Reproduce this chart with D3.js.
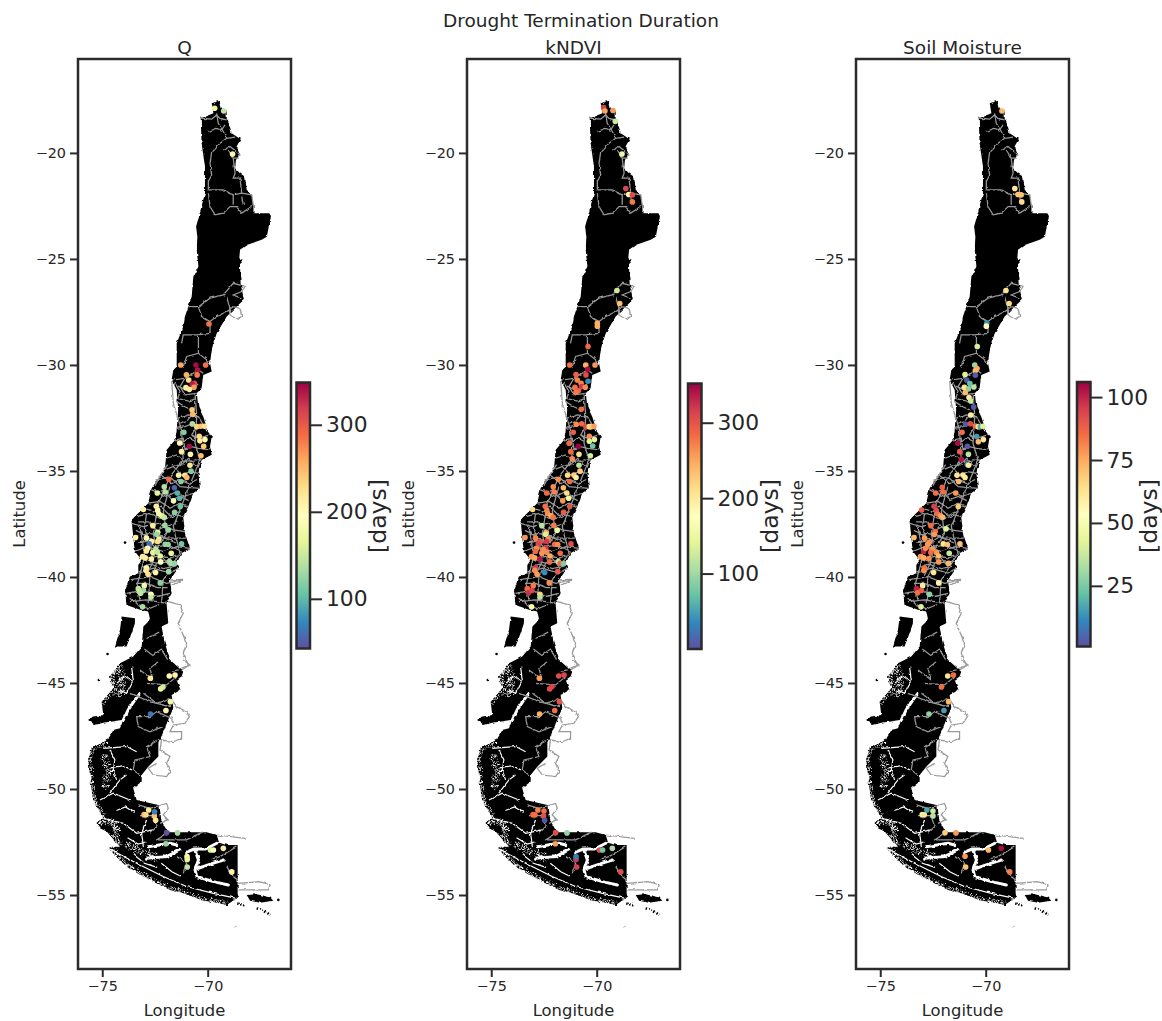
<!DOCTYPE html>
<html lang="en">
<head>
<meta charset="utf-8">
<title>Drought Termination Duration</title>
<script src="https://d3js.org/d3.v7.min.js"></script>
<style>
  html, body { margin: 0; padding: 0; background: #fff; }
  text { font-family: "DejaVu Sans", sans-serif; fill: #262626; }
</style>
</head>
<body>
<div id="chart"></div>
<script>
// Values: every site is [lon, lat, days]
var panelTitles = ['Q', 'kNDVI', 'Soil Moisture'];

var qSites = [
  [-69.67,-17.89,170],[-69.24,-18.02,145],[-68.82,-20.05,205],[-69.94,-28.07,285],
  [-71.28,-30.0,260],[-70.56,-30.0,345],[-70.10,-30.0,285],[-70.48,-30.24,340],[-71.01,-30.46,255],[-70.50,-30.47,280],
  [-70.90,-30.71,225],[-70.63,-30.86,310],[-70.74,-30.90,335],[-70.65,-31.05,265],[-71.03,-31.07,215],[-70.87,-31.15,215],
  [-70.74,-32.12,240],[-70.71,-32.33,250],[-70.73,-32.78,135],[-71.13,-33.18,115],[-70.52,-32.91,235],[-70.33,-32.89,245],
  [-70.16,-32.89,225],[-70.40,-33.36,230],[-70.13,-33.52,205],[-70.37,-33.58,215],[-70.19,-33.84,240],[-71.33,-33.68,205],
  [-70.87,-33.84,345],[-71.24,-34.09,215],[-70.82,-34.21,205],[-70.32,-34.28,245],[-70.84,-34.73,220],[-70.79,-35.01,115],
  [-71.38,-35.20,175],[-71.08,-35.20,220],[-70.99,-35.31,250],[-71.84,-35.39,290],[-71.27,-35.50,120],[-72.06,-35.75,140],
  [-71.58,-35.79,55],[-72.01,-35.99,140],[-72.39,-36.04,165],[-71.44,-36.04,95],[-71.33,-36.29,95],[-71.62,-36.41,190],
  [-71.30,-36.68,105],[-72.44,-36.67,215],[-73.05,-36.82,210],[-72.37,-36.87,205],[-72.31,-37.03,185],[-72.18,-37.11,170],
  [-72.06,-37.18,150],[-71.57,-36.95,120],[-72.60,-37.58,215],[-72.03,-37.56,130],[-71.87,-37.78,125],[-72.37,-37.89,175],
  [-72.42,-37.99,125],[-73.42,-38.14,210],[-72.91,-38.16,205],[-72.31,-38.21,215],[-72.37,-38.33,225],[-72.66,-38.33,210],
  [-72.78,-38.43,60],[-72.01,-38.46,125],[-71.88,-38.47,125],[-71.24,-38.44,110],[-72.85,-38.65,200],[-72.91,-38.77,215],
  [-72.47,-38.69,145],[-72.60,-38.85,165],[-72.39,-38.83,145],[-71.73,-38.88,170],[-72.25,-39.01,165],[-73.09,-39.04,215],
  [-72.96,-39.10,215],[-72.67,-39.15,210],[-72.23,-39.29,195],[-71.82,-39.27,135],[-71.73,-39.35,135],[-71.57,-39.38,125],
  [-72.91,-39.57,205],[-72.93,-39.70,215],[-72.83,-39.87,225],[-72.47,-39.79,205],[-71.85,-39.75,130],[-72.25,-40.28,120],
  [-73.01,-40.41,180],[-73.29,-40.55,145],[-73.24,-40.69,150],[-73.05,-40.63,130],[-73.18,-40.77,145],[-72.69,-40.82,195],
  [-72.69,-40.96,150],[-73.09,-41.41,135],
  [-72.72,-44.78,215],[-71.82,-44.67,205],[-71.55,-44.62,210],[-72.23,-45.28,170],[-72.12,-45.19,155],[-71.77,-45.88,175],
  [-71.98,-46.30,205],[-72.71,-46.46,65],[-72.80,-50.99,215],[-73.02,-51.21,250],[-72.93,-51.22,230],[-72.53,-51.27,245],
  [-72.52,-51.07,70],[-72.47,-51.48,220],[-71.95,-52.06,45],[-71.43,-52.07,130],[-71.98,-52.58,125],[-70.98,-53.19,205],
  [-70.97,-53.32,170],[-70.97,-53.68,145],[-69.87,-52.88,160],[-69.73,-52.88,190],[-69.26,-52.80,215],[-68.86,-53.91,210]
];

var kndviSites = [
  [-69.67,-17.86,315],[-69.61,-18.02,250],[-69.23,-18.00,255],[-69.12,-18.51,125],[-68.80,-20.05,155],[-68.62,-21.68,310],
  [-68.48,-21.96,185],[-68.31,-21.98,305],[-68.31,-22.31,275],[-69.04,-26.49,125],[-68.91,-27.10,235],[-69.97,-28.03,245],
  [-69.97,-28.17,245],[-70.41,-29.13,285],[-71.28,-30.0,280],[-70.52,-30.01,245],[-70.08,-30.0,260],[-70.43,-30.20,345],
  [-70.98,-30.45,290],[-70.51,-30.47,305],[-70.92,-30.71,270],[-70.41,-30.77,40],[-70.74,-30.86,270],[-70.71,-31.02,320],
  [-70.54,-31.05,265],[-71.03,-31.05,280],[-70.87,-31.22,290],[-70.98,-31.29,275],
  [-70.73,-32.09,285],[-70.97,-32.80,265],[-70.71,-32.77,285],[-70.51,-32.92,305],[-70.35,-32.91,210],[-70.27,-32.91,220],
  [-70.13,-32.89,255],[-71.11,-33.18,295],[-70.35,-33.36,265],[-70.11,-33.52,140],[-70.35,-33.60,135],[-70.19,-33.82,75],
  [-71.31,-33.69,285],[-70.87,-33.84,350],[-71.23,-34.09,285],[-70.84,-34.21,210],[-70.30,-34.28,130],[-71.16,-34.43,265],
  [-70.84,-34.73,115],[-70.79,-35.01,225],[-71.38,-35.20,215],[-71.08,-35.19,225],[-70.98,-35.31,195],[-71.82,-35.39,265],
  [-71.28,-35.50,285],[-72.06,-35.75,265],[-71.58,-35.79,240],[-72.01,-35.99,270],[-72.37,-36.04,285],[-71.42,-36.04,210],
  [-71.33,-36.29,150],[-71.61,-36.41,260],[-71.28,-36.68,300],[-72.44,-36.67,280],[-73.04,-36.82,215],[-72.36,-36.87,270],
  [-72.33,-37.01,265],[-72.17,-37.11,245],[-72.06,-37.18,280],[-71.57,-36.95,295],[-72.60,-37.58,115],[-72.03,-37.56,275],
  [-71.87,-37.80,150],[-72.39,-37.89,250],[-72.42,-37.99,135],[-73.40,-38.14,260],[-72.90,-38.17,270],[-72.30,-38.21,265],
  [-72.66,-38.33,300],[-72.37,-38.33,320],[-72.77,-38.43,310],[-71.99,-38.46,285],[-71.85,-38.47,265],[-71.22,-38.44,305],
  [-72.41,-38.63,320],[-72.85,-38.65,265],[-72.90,-38.79,285],[-72.53,-38.71,265],[-72.60,-38.88,260],[-72.37,-38.83,265],
  [-71.73,-38.88,285],[-72.21,-39.01,250],[-73.09,-39.04,260],[-72.94,-39.10,250],[-72.69,-39.15,340],[-72.23,-39.29,285],
  [-71.82,-39.27,120],[-71.73,-39.35,285],[-71.57,-39.38,85],[-72.90,-39.57,320],[-72.94,-39.68,265],[-72.83,-39.87,255],
  [-72.47,-39.79,40],[-71.85,-39.75,295],[-72.25,-40.28,265],[-73.01,-40.41,275],[-73.29,-40.55,285],[-73.23,-40.75,325],
  [-73.07,-40.64,310],[-72.69,-40.82,220],[-72.69,-40.96,115],[-73.09,-41.41,165],
  [-72.72,-44.78,255],[-71.80,-44.67,305],[-71.55,-44.62,310],[-72.23,-45.28,305],[-72.12,-45.17,310],[-71.77,-45.88,300],
  [-71.99,-46.30,280],[-72.71,-46.46,245],[-72.79,-50.99,270],[-73.02,-51.21,285],[-72.93,-51.22,280],[-72.50,-51.04,280],
  [-72.52,-51.27,300],[-72.47,-51.48,5],[-71.95,-52.06,305],[-71.41,-52.07,95],[-71.96,-52.58,255],[-70.98,-53.32,320],
  [-70.98,-53.19,30],[-70.95,-53.68,315],[-69.87,-52.88,305],[-69.72,-52.88,75],[-69.26,-52.80,105],[-68.86,-53.91,305]
];

var smSites = [
  [-69.23,-18.02,72],[-68.62,-21.68,62],[-68.47,-21.96,70],[-68.32,-21.98,70],[-68.29,-22.31,65],[-69.04,-26.49,62],
  [-68.89,-27.10,65],[-69.95,-28.03,13],[-69.97,-28.17,55],[-70.40,-29.13,40],[-70.52,-30.0,30],[-70.41,-30.17,75],
  [-70.49,-30.27,72],[-70.98,-30.45,42],[-70.49,-30.48,3],[-70.90,-30.71,3],[-70.75,-30.88,22],[-71.01,-31.05,62],
  [-70.56,-31.04,35],[-70.82,-31.13,28],[-70.97,-31.30,72],[-70.79,-31.54,60],[-70.71,-31.70,38],[-70.57,-31.98,3],
  [-70.71,-32.36,60],[-70.95,-32.80,3],[-70.73,-32.77,92],[-70.49,-32.88,85],[-70.35,-32.91,62],[-70.25,-32.91,18],
  [-70.13,-32.89,42],[-71.12,-33.18,85],[-70.43,-33.38,15],[-70.11,-33.52,62],[-70.35,-33.62,72],[-71.33,-33.69,105],
  [-70.87,-33.84,3],[-71.23,-34.09,88],[-70.82,-34.21,35],[-71.16,-34.45,103],[-70.87,-34.70,15],[-70.81,-34.73,60],
  [-71.36,-35.20,62],[-71.08,-35.19,62],[-70.98,-35.31,60],[-71.28,-35.50,72],[-72.06,-35.77,88],[-72.01,-35.99,85],
  [-72.37,-36.04,85],[-71.42,-36.04,78],[-72.45,-36.67,95],[-71.30,-36.68,68],[-73.04,-36.84,88],[-72.34,-36.87,92],
  [-72.28,-37.03,85],[-72.14,-37.11,78],[-72.04,-37.18,72],[-72.60,-37.58,85],[-71.88,-37.73,42],[-72.39,-37.86,85],
  [-72.44,-38.00,78],[-73.40,-38.14,72],[-72.90,-38.17,78],[-72.66,-38.35,80],[-72.75,-38.46,78],[-72.01,-38.44,62],
  [-71.82,-38.47,70],[-71.22,-38.44,70],[-72.94,-38.80,100],[-72.85,-38.65,80],[-72.53,-38.68,78],[-72.60,-38.85,85],
  [-72.33,-38.85,78],[-71.73,-38.88,38],[-72.23,-39.01,72],[-73.09,-39.04,78],[-72.94,-39.10,75],[-72.69,-39.13,80],
  [-72.23,-39.29,78],[-71.76,-39.35,72],[-72.90,-39.57,85],[-72.94,-39.70,80],[-72.47,-39.79,62],[-72.23,-40.28,58],
  [-72.99,-40.41,60],[-73.28,-40.55,100],[-73.23,-40.75,85],[-73.05,-40.64,88],[-72.67,-40.82,28],[-73.07,-41.41,42],
  [-71.80,-44.67,62],[-71.53,-44.62,85],[-72.10,-45.19,85],[-71.76,-45.88,72],[-71.98,-46.30,15],[-72.69,-46.46,28],
  [-72.79,-50.99,17],[-73.01,-51.21,45],[-72.91,-51.22,62],[-72.50,-51.04,38],[-72.50,-51.27,35],[-71.93,-52.06,68],
  [-71.41,-52.07,78],[-70.98,-53.17,78],[-70.95,-53.68,70],[-69.87,-52.88,72],[-69.26,-52.80,105],[-68.86,-53.91,82]
];

// Colour bar limits and ticks of each panel
var barDomains = [[42.9, 348.6], [0, 352], [0.9, 106]];
var barTicks = [[100, 200, 300], [100, 200, 300], [25, 50, 75, 100]];

var lonTicks = [-75, -70];
var latTicks = [-20, -25, -30, -35, -40, -45, -50, -55];

// Land, traced by eye, [lon, lat]
var mainland = [
  [-69.57,-17.58],[-69.42,-17.55],[-69.34,-17.89],[-69.10,-18.05],[-69.10,-18.37],[-68.97,-18.68],[-68.86,-19.07],[-68.44,-19.36],
  [-68.63,-19.70],[-68.55,-19.86],[-68.47,-20.09],[-68.66,-20.33],[-68.70,-20.72],[-68.47,-20.96],[-68.23,-21.12],[-68.15,-21.74],
  [-67.91,-21.98],[-67.83,-22.53],[-67.83,-22.84],[-67.08,-22.84],[-67.0,-22.97],[-67.2,-23.95],[-67.44,-24.10],[-68.15,-24.34],
  [-68.47,-24.57],[-68.50,-24.97],[-68.34,-25.05],[-68.47,-25.20],[-68.44,-26.15],[-68.28,-26.93],[-68.55,-27.17],[-69.10,-27.72],
  [-69.57,-28.50],[-69.73,-28.98],[-69.81,-29.29],[-69.89,-29.92],[-69.81,-30.31],[-70.21,-30.47],[-70.29,-31.10],[-70.52,-31.34],
  [-70.44,-31.97],[-70.21,-32.44],[-70.08,-32.83],[-70.05,-33.07],[-69.81,-33.38],[-69.89,-33.85],[-69.81,-34.24],[-70.29,-34.48],
  [-70.44,-35.11],[-70.37,-35.82],[-70.69,-36.05],[-70.92,-36.68],[-71.16,-37.15],[-71.08,-37.94],[-70.84,-38.65],[-71.24,-38.88],
  [-71.47,-39.35],[-71.40,-39.59],[-71.79,-40.14],[-71.71,-40.77],[-71.95,-41.24],[-71.87,-42.18],[-72.19,-42.34],[-72.03,-43.13],
  [-71.79,-43.91],[-71.16,-44.47],[-71.24,-44.70],[-71.47,-44.86],[-71.29,-45.33],[-71.71,-45.57],[-71.63,-46.19],[-71.87,-46.74],
  [-72.10,-47.30],[-72.34,-47.85],[-72.34,-48.47],[-72.82,-48.95],[-73.13,-49.34],[-73.13,-49.65],[-73.53,-49.97],[-73.37,-50.52],
  [-72.34,-50.75],[-72.26,-51.38],[-71.95,-51.93],[-71.79,-52.04],[-70.05,-52.04],[-69.57,-52.17],[-69.46,-52.53],[-69.10,-52.64],
  [-68.58,-52.64],[-68.58,-54.92],[-68.55,-55.11],[-69.10,-55.47],[-69.57,-55.36],[-70.21,-55.27],[-71.16,-54.92],[-71.79,-54.76],
  [-72.58,-54.37],[-73.21,-54.05],[-73.85,-53.66],[-74.72,-52.80],[-74.56,-52.72],[-74.16,-52.72],[-74.79,-52.01],[-75.11,-51.85],
  [-75.27,-51.62],[-74.95,-51.38],[-75.43,-50.52],[-75.51,-50.05],[-75.59,-49.26],[-75.67,-48.63],[-75.51,-48.08],[-74.79,-47.69],
  [-74.48,-47.22],[-74.16,-47.14],[-74.0,-46.74],[-74.95,-46.87],[-75.35,-46.98],[-75.67,-46.75],[-75.51,-46.59],[-74.95,-46.51],
  [-75.03,-45.88],[-74.48,-45.25],[-74.64,-44.70],[-74.16,-44.07],[-73.53,-43.75],[-73.13,-43.28],[-73.05,-42.34],[-72.74,-42.03],
  [-72.82,-41.63],[-73.21,-41.55],[-73.85,-41.32],[-73.92,-40.61],[-73.69,-39.98],[-73.29,-39.82],[-73.29,-39.43],[-73.13,-39.20],
  [-73.45,-38.80],[-73.53,-38.10],[-73.61,-37.31],[-73.37,-37.07],[-72.82,-36.52],[-72.66,-35.82],[-72.03,-34.95],[-71.95,-34.01],
  [-71.55,-33.54],[-71.47,-33.07],[-71.40,-32.12],[-71.47,-31.18],[-71.71,-30.71],[-71.63,-30.24],[-71.47,-30.08],[-71.47,-28.98],
  [-71.16,-28.19],[-71.08,-27.72],[-70.92,-27.25],[-70.76,-26.78],[-70.68,-25.83],[-70.44,-25.36],[-70.52,-24.57],[-70.49,-23.95],
  [-70.55,-23.47],[-70.44,-23.08],[-70.13,-21.90],[-70.13,-20.64],[-70.29,-19.54],[-70.33,-18.37],[-69.73,-18.13],[-69.81,-17.66]
];
var chiloe = [[-74.08,-41.87],[-73.45,-41.95],[-73.45,-42.18],[-73.61,-42.65],[-73.85,-43.28],[-74.40,-43.28],[-74.16,-42.50]];
var fuego = [[-68.15,-55.0],[-67.68,-54.97],[-67.04,-55.11],[-66.89,-55.27],[-67.52,-55.36],[-67.99,-55.27]];
var islets = [[-73.92,-38.38],[-75.16,-44.86],[-74.75,-43.63],[-66.65,-55.23]];

// Channels cut through the land in the south
var wideChannels = [
  [[-74.0,-46.74],[-73.77,-46.27],[-73.45,-45.80],[-73.21,-45.49]],
  [[-72.82,-52.72],[-71.79,-52.56],[-71.47,-52.64]],
  [[-72.90,-53.27],[-71.95,-53.19],[-71.32,-52.87]],
  [[-71.0,-52.98],[-70.64,-52.83],[-70.1,-52.83],[-69.57,-52.56]],
  [[-70.60,-52.90],[-70.44,-53.35],[-70.60,-53.82],[-70.52,-54.13],[-69.73,-54.37],[-69.02,-54.53]],
  [[-70.44,-53.74],[-69.73,-53.50],[-69.26,-53.35]]
];
var thinChannels = [
  [[-73.61,-44.23],[-73.53,-44.86],[-73.85,-45.49],[-74.16,-45.33]],
  [[-74.64,-48.16],[-74.40,-48.63],[-74.48,-49.10],[-74.32,-49.57]],
  [[-74.95,-48.08],[-73.84,-48.0],[-73.37,-48.24]],
  [[-74.64,-50.20],[-74.16,-49.57],[-73.85,-49.34]],
  [[-75.11,-50.52],[-74.48,-50.20],[-73.69,-50.52]],
  [[-74.95,-51.38],[-74.0,-51.62],[-73.37,-52.09],[-72.58,-51.93]],
  [[-72.90,-51.46],[-73.13,-52.09],[-73.05,-52.72]],
  [[-74.72,-52.80],[-73.37,-53.50],[-72.11,-54.13],[-71.0,-54.60],[-69.73,-54.92],[-68.31,-55.23]],
  [[-74.3,-51.0],[-73.9,-50.85],[-73.5,-51.1]],
  [[-74.6,-49.0],[-74.0,-48.9],[-73.6,-49.1]],
  [[-74.3,-45.0],[-73.9,-44.7],[-73.6,-44.9]],
  [[-73.8,-52.3],[-73.3,-52.6],[-72.9,-52.5]],
  [[-73.5,-53.1],[-73.0,-53.5],[-72.4,-53.7]],
  [[-72.2,-53.5],[-71.7,-53.9],[-71.3,-54.1]]
];
// Combed west and south coasts
var fringes = [
  [[-74.72,-52.80],[-73.85,-53.66],[-73.21,-54.05],[-72.58,-54.37],[-71.79,-54.76],[-71.16,-54.92],[-70.21,-55.27],[-69.57,-55.36],[-69.10,-55.47]],
  [[-73.9,-52.6],[-73.0,-53.0],[-72.3,-53.3]],
  [[-75.27,-51.62],[-74.95,-51.38],[-75.43,-50.52],[-75.51,-50.05],[-75.59,-49.26],[-75.67,-48.63],[-75.51,-48.08],[-74.79,-47.69]],
  [[-74.9,-51.5],[-74.3,-51.7],[-74.4,-52.4],[-74.16,-52.72]],
  [[-74.16,-44.07],[-74.64,-44.70],[-74.48,-45.25],[-75.03,-45.88]],
  [[-74.2,-44.3],[-74.0,-45.0],[-74.3,-45.7]],
  [[-74.9,-48.4],[-74.7,-49.2],[-74.9,-50.0]]
];
var fragments = [[[-67.68,-55.63],[-67.3,-55.75],[-67.04,-55.94]], [[-68.6,-55.4],[-68.2,-55.5]]];
var specks = [[-68.70,-56.49]];

// Basin boundaries, [lon, lat]
var basins = [
  [[-70.33,-18.36],[-69.81,-18.41],[-69.58,-18.21],[-69.42,-18.37],[-69.10,-18.44]],
  [[-69.97,-18.99],[-69.58,-18.84],[-69.34,-18.92],[-69.18,-18.68]],
  [[-69.58,-18.13],[-69.50,-18.60],[-69.26,-18.99],[-69.10,-19.31],[-68.70,-19.26]],
  [[-69.10,-19.31],[-69.41,-19.54],[-69.81,-19.94],[-69.89,-20.49],[-69.81,-21.04],[-69.97,-21.35],[-69.97,-21.74]],
  [[-69.26,-19.86],[-68.94,-19.70],[-68.63,-19.94],[-68.47,-20.09],[-68.55,-20.25],[-68.79,-20.25],[-69.02,-19.86]],
  [[-68.79,-20.25],[-68.70,-20.96],[-68.79,-21.19],[-68.47,-21.19],[-68.39,-21.90]],
  [[-69.97,-21.74],[-69.26,-21.74],[-68.79,-21.98],[-68.39,-21.90],[-67.91,-21.98],[-67.83,-22.53]],
  [[-69.97,-21.90],[-69.89,-22.53],[-69.65,-22.92],[-69.26,-22.84],[-68.94,-22.53],[-68.63,-22.53],[-68.39,-22.84],[-67.91,-22.53]],
  [[-68.79,-21.98],[-68.79,-22.45]],
  [[-68.39,-22.06],[-68.31,-22.45]],
  [[-70.92,-27.25],[-70.44,-27.25],[-70.21,-27.09],[-69.89,-26.85],[-69.26,-26.70],[-68.79,-26.15],[-68.23,-26.30],[-68.39,-26.54],[-68.79,-26.70],[-68.39,-26.85]],
  [[-68.79,-27.25],[-68.47,-27.33],[-68.39,-27.72],[-68.63,-27.84],[-68.94,-27.64],[-68.98,-27.40],[-68.79,-27.25]],
  [[-70.44,-27.25],[-70.29,-27.72],[-69.89,-27.95],[-69.58,-27.72],[-69.26,-27.56],[-68.94,-27.40],[-69.10,-26.78]],
  [[-69.89,-27.95],[-69.89,-28.51],[-70.52,-28.58],[-71.16,-28.58],[-71.24,-28.98]],
  [[-70.44,-28.58],[-70.44,-29.45],[-71.0,-29.60],[-71.16,-30.08]],
  [[-70.44,-29.45],[-70.05,-29.76],[-69.89,-30.0]],
  [[-71.63,-30.71],[-71.08,-30.63],[-70.44,-30.24],[-70.21,-30.39]],
  [[-71.08,-30.63],[-71.31,-31.02],[-71.08,-31.41],[-70.52,-31.34]],
  [[-71.55,-30.86],[-71.31,-31.26],[-71.47,-31.73],[-71.08,-31.97],[-70.76,-32.12]],
  [[-71.40,-32.51],[-70.92,-32.36],[-70.44,-32.44],[-70.21,-32.83]],
  [[-71.47,-32.99],[-71.08,-32.91],[-70.68,-32.75],[-70.52,-32.91],[-70.76,-33.30],[-70.44,-33.46],[-69.89,-33.30]],
  [[-71.55,-33.54],[-71.16,-33.46],[-71.08,-34.01],[-70.76,-33.85],[-70.44,-33.93],[-69.89,-34.01]],
  [[-71.95,-34.40],[-71.47,-34.24],[-71.08,-34.56],[-70.60,-34.48],[-70.29,-34.48]],
  [[-72.03,-34.95],[-71.63,-34.79],[-71.24,-35.19],[-70.84,-35.03],[-70.44,-35.11]],
  [[-72.42,-35.42],[-71.79,-35.27],[-71.31,-35.74],[-70.37,-35.82]],
  [[-72.66,-35.89],[-71.95,-36.21],[-71.47,-35.97],[-71.16,-36.21],[-70.69,-36.05]],
  [[-72.82,-36.52],[-72.26,-36.44],[-71.79,-36.76],[-71.31,-36.52],[-70.92,-36.68]],
  [[-73.37,-37.15],[-72.74,-37.0],[-72.11,-37.31],[-71.47,-37.07],[-71.16,-37.15]],
  [[-73.61,-37.47],[-73.05,-37.63],[-72.34,-37.47],[-71.63,-37.78],[-71.08,-37.86]],
  [[-73.53,-38.10],[-72.74,-37.94],[-71.95,-38.17],[-71.08,-38.17]],
  [[-73.45,-38.80],[-72.90,-38.57],[-72.11,-38.80],[-71.47,-38.57],[-70.84,-38.65]],
  [[-73.13,-39.20],[-72.42,-39.35],[-71.47,-39.27]],
  [[-73.29,-39.82],[-72.58,-39.59],[-71.79,-39.82],[-71.40,-39.59]],
  [[-73.69,-40.14],[-72.74,-39.98],[-71.95,-40.30],[-71.16,-40.14]],
  [[-73.85,-40.77],[-73.05,-40.61],[-72.42,-40.92],[-71.79,-40.77]],
  [[-73.69,-41.16],[-72.90,-41.08],[-71.95,-41.24]],
  [[-71.71,-30.71],[-71.63,-31.81],[-71.24,-33.07],[-71.16,-34.48],[-71.79,-35.27],[-72.34,-36.52],[-72.58,-37.94],[-72.34,-39.2],[-72.74,-39.98],[-72.82,-41.24]],
  [[-70.60,-31.34],[-70.52,-32.44],[-70.60,-33.69],[-70.37,-34.48],[-71.0,-36.05],[-71.63,-37.63],[-71.31,-38.88],[-72.11,-40.14],[-72.19,-41.24]],
  [[-73.21,-37.63],[-72.98,-39.04],[-73.37,-40.45],[-73.21,-41.08]],
  [[-71.79,-35.74],[-72.11,-36.84],[-71.95,-37.94],[-72.42,-38.72],[-71.79,-39.51]],
  [[-71.40,-31.0],[-71.0,-31.2],[-70.75,-31.1],[-70.45,-30.9]],
  [[-71.35,-31.6],[-70.9,-31.7],[-70.6,-31.6]],
  [[-71.3,-32.75],[-70.95,-32.6],[-70.75,-32.35]],
  [[-71.25,-33.7],[-70.9,-33.45],[-70.6,-33.6]],
  [[-71.7,-34.7],[-71.3,-34.75],[-70.9,-34.4],[-70.5,-34.8]],
  [[-72.2,-35.2],[-71.7,-35.6],[-71.4,-35.4],[-70.9,-35.6],[-70.5,-35.4]],
  [[-72.5,-36.1],[-72.1,-35.9],[-71.7,-36.35],[-71.3,-36.2],[-70.9,-36.4]],
  [[-72.9,-36.8],[-72.5,-36.9],[-72.2,-36.7],[-71.8,-37.1],[-71.3,-36.9]],
  [[-73.3,-37.4],[-72.8,-37.4],[-72.4,-37.8],[-72.0,-37.6],[-71.5,-37.5]],
  [[-73.4,-37.8],[-73.0,-38.0],[-72.5,-38.3],[-72.2,-38.1],[-71.5,-38.4]],
  [[-73.3,-38.4],[-72.8,-38.3],[-72.5,-38.6],[-71.9,-38.5],[-71.2,-38.8]],
  [[-73.2,-39.0],[-72.8,-39.1],[-72.3,-39.0],[-71.8,-39.1],[-71.4,-39.0]],
  [[-73.1,-39.5],[-72.7,-39.4],[-72.1,-39.6],[-71.6,-39.5]],
  [[-73.4,-40.3],[-72.9,-40.3],[-72.4,-40.5],[-71.9,-40.5]],
  [[-73.7,-41.0],[-73.3,-41.3],[-72.8,-41.5],[-72.3,-41.3]],
  [[-72.5,-35.7],[-72.3,-35.3],[-71.9,-34.7]],
  [[-72.9,-37.0],[-73.0,-37.7],[-72.7,-38.5],[-72.6,-39.3],[-72.9,-39.9]],
  [[-73.0,-43.4],[-72.6,-43.7],[-72.2,-43.4],[-71.9,-43.9]],
  [[-72.9,-42.9],[-72.3,-42.6]],
  [[-71.79,-40.14],[-71.16,-40.11],[-71.47,-40.30],[-71.71,-40.38]],
  [[-71.87,-41.16],[-71.31,-41.32],[-71.16,-41.71],[-71.40,-42.18],[-71.0,-43.13],[-71.16,-43.60],[-70.92,-44.15],[-71.40,-44.38],[-71.79,-44.46]],
  [[-71.16,-43.92],[-70.84,-44.15],[-71.24,-44.39]],
  [[-71.71,-45.80],[-71.47,-46.12],[-71.0,-46.35],[-70.87,-46.59],[-71.08,-46.90],[-71.63,-46.98],[-71.79,-47.30],[-71.24,-47.30],[-71.24,-47.61],[-71.63,-47.77],[-72.19,-47.69],[-72.26,-48.16],[-71.79,-48.47],[-71.95,-48.79],[-71.79,-49.18],[-71.95,-49.42],[-72.58,-49.34],[-72.82,-49.02],[-72.42,-48.79]],
  [[-73.05,-45.49],[-72.42,-45.96],[-71.79,-45.72]],
  [[-72.74,-46.59],[-73.37,-46.59],[-73.29,-47.06],[-72.74,-47.30],[-72.11,-47.06]],
  [[-72.74,-46.59],[-72.42,-46.35],[-71.71,-46.67],[-71.63,-46.90]],
  [[-72.34,-47.69],[-72.90,-48.0],[-72.74,-48.47],[-73.45,-48.63],[-73.53,-49.10],[-73.21,-49.34]],
  [[-73.21,-44.39],[-72.58,-44.86],[-72.74,-44.31],[-72.34,-43.99]],
  [[-72.90,-45.02],[-71.95,-45.09],[-71.47,-44.70]],
  [[-73.69,-45.49],[-72.74,-45.88],[-71.79,-46.12]],
  [[-73.29,-50.75],[-72.74,-50.91],[-71.95,-50.68],[-71.87,-50.91],[-72.11,-51.22],[-71.87,-51.46],[-72.26,-51.62]],
  [[-73.21,-51.30],[-72.58,-51.30],[-72.42,-51.78],[-72.74,-52.09]],
  [[-71.79,-52.01],[-72.42,-52.40],[-71.63,-52.40],[-71.0,-52.40],[-70.21,-52.01]],
  [[-69.89,-53.35],[-69.42,-53.19],[-68.63,-52.72]],
  [[-69.10,-53.66],[-68.79,-54.13],[-68.58,-54.29]],
  [[-68.58,-54.45],[-67.52,-54.37],[-67.04,-54.53],[-67.12,-54.76],[-68.55,-54.76]],
  [[-71.47,-53.19],[-71.0,-53.50],[-71.16,-53.98]],
  [[-69.57,-52.17],[-68.2,-52.33]]
];

// Spectral_r, as the colour bars show it
var spectral = d3.schemeSpectral[11].slice().reverse();

var panelLeft = [78, 467, 856];
var panelWidth = 213, plotTop = 59, plotHeight = 910;
var barBox = [
  { x: 296.5, w: 13.5, top: 382.5, bottom: 648.5 },
  { x: 688, w: 13.5, top: 383.5, bottom: 649 },
  { x: 1077, w: 13.5, top: 382, bottom: 646.5 }
];
var barLabelX = [378, 770, 1149];
var ink = '#2b2b2b';

var svg = d3.select('#chart').append('svg')
  .attr('width', 1162).attr('height', 1021)
  .style('display', 'block');

var defs = svg.append('defs');

// Rough up the hand traced coast so it reads like a real shoreline
function roughFilter(id, freq, scale, blur) {
  var f = defs.append('filter').attr('id', id)
    .attr('color-interpolation-filters', 'sRGB')
    .attr('x', '-10%').attr('y', '-5%').attr('width', '120%').attr('height', '110%');
  f.append('feTurbulence').attr('type', 'fractalNoise').attr('baseFrequency', freq)
    .attr('numOctaves', 2).attr('seed', 4).attr('result', 'noise');
  f.append('feDisplacementMap').attr('in', 'SourceGraphic').attr('in2', 'noise')
    .attr('scale', scale).attr('xChannelSelector', 'R').attr('yChannelSelector', 'G').attr('result', 'moved');
  f.append('feGaussianBlur').attr('in', 'moved').attr('stdDeviation', blur);
}
roughFilter('rough', 0.2, 3, 0.35);
roughFilter('torn', 0.45, 7, 0.35);
defs.append('filter').attr('id', 'soft')
  .append('feGaussianBlur').attr('stdDeviation', 0.4);

svg.append('text').attr('x', 581).attr('y', 27)
  .attr('text-anchor', 'middle').attr('font-size', 18.5)
  .text('Drought Termination Duration');

var sitesByPanel = [qSites, kndviSites, smSites];

panelTitles.forEach(function (title, i) {
  var x = d3.scaleLinear().domain([-76.15, -66.05]).range([0, panelWidth]);
  var y = d3.scaleLinear().domain([-15.57, -58.49]).range([0, plotHeight]);
  var line = d3.line().x(function (d) { return x(d[0]); }).y(function (d) { return y(d[1]); });

  var g = svg.append('g').attr('transform', 'translate(' + panelLeft[i] + ',' + plotTop + ')');

  // Map layers
  var map = g.append('g').attr('filter', 'url(#rough)');
  [mainland, chiloe, fuego].forEach(function (poly) {
    map.append('path').attr('d', line(poly) + 'Z').attr('fill', '#000');
  });
  map.selectAll('.islet').data(islets).enter().append('circle')
    .attr('cx', function (d) { return x(d[0]); }).attr('cy', function (d) { return y(d[1]); })
    .attr('r', 1.3).attr('fill', '#000');
  map.selectAll('.fragment').data(fragments).enter().append('path')
    .attr('d', line).attr('fill', 'none').attr('stroke', '#000')
    .attr('stroke-width', 2.5).attr('stroke-dasharray', '1.5 1.5');
  map.selectAll('.speck').data(specks).enter().append('circle')
    .attr('cx', function (d) { return x(d[0]); }).attr('cy', function (d) { return y(d[1]); })
    .attr('r', 0.8).attr('fill', '#bbb');
  var torn = g.append('g').attr('filter', 'url(#torn)');
  torn.selectAll('.fringe').data(fringes).enter().append('path')
    .attr('d', line).attr('fill', 'none').attr('stroke', '#fff')
    .attr('stroke-width', 7).attr('stroke-dasharray', '0.7 1.6 1.1 1.3 0.6 2');
  var cuts = g.append('g').attr('filter', 'url(#rough)');
  cuts.selectAll('.wide').data(wideChannels).enter().append('path')
    .attr('d', line).attr('fill', 'none').attr('stroke', '#fff')
    .attr('stroke-width', 3).attr('stroke-linecap', 'round').attr('stroke-linejoin', 'round');
  cuts.selectAll('.thin').data(thinChannels).enter().append('path')
    .attr('d', line).attr('fill', 'none').attr('stroke', '#fff').attr('stroke-width', 1.2);
  cuts.selectAll('.basin').data(basins).enter().append('path')
    .attr('d', line).attr('fill', 'none').attr('stroke', '#999').attr('stroke-width', 1.25);

  // Sites
  var color = d3.scaleLinear()
    .domain(spectral.map(function (c, k) {
      return barDomains[i][0] + (barDomains[i][1] - barDomains[i][0]) * k / 10;
    }))
    .range(spectral);
  g.append('g').attr('filter', 'url(#soft)').selectAll('.site').data(sitesByPanel[i]).enter().append('circle')
    .attr('cx', function (d) { return x(d[0]); }).attr('cy', function (d) { return y(d[1]); })
    .attr('r', 2.8).attr('fill', function (d) { return color(d[2]); });

  // Frame and axes
  g.append('rect').attr('width', panelWidth).attr('height', plotHeight)
    .attr('fill', 'none').attr('stroke', ink).attr('stroke-width', 2.5);

  var xAxis = g.append('g').attr('transform', 'translate(0,' + plotHeight + ')')
    .call(d3.axisBottom(x).tickValues(lonTicks).tickSize(8).tickPadding(4).tickFormat(d3.format('d')));
  var yAxis = g.append('g')
    .call(d3.axisLeft(y).tickValues(latTicks).tickSize(8).tickPadding(4).tickFormat(d3.format('d')));
  [xAxis, yAxis].forEach(function (a) {
    a.select('.domain').remove();
    a.selectAll('line').attr('stroke', ink).attr('stroke-width', 2);
    a.selectAll('text').attr('font-size', 14.4).attr('font-family', '"DejaVu Sans", sans-serif').attr('fill', '#262626');
  });

  g.append('text').attr('x', panelWidth / 2).attr('y', -5)
    .attr('text-anchor', 'middle').attr('font-size', 18.5).text(title);
  g.append('text').attr('x', panelWidth / 2).attr('y', 1016 - plotTop)
    .attr('text-anchor', 'middle').attr('font-size', 16.4).text('Longitude');
  g.append('text')
    .attr('transform', 'translate(-53.5,' + (514 - plotTop) + ') rotate(-90)')
    .attr('text-anchor', 'middle').attr('font-size', 16.4).text('Latitude');

  // Colour bar
  var box = barBox[i];
  var barY = d3.scaleLinear().domain(barDomains[i]).range([box.bottom, box.top]);
  var grad = defs.append('linearGradient').attr('id', 'bar' + i)
    .attr('x1', 0).attr('x2', 0).attr('y1', 1).attr('y2', 0);
  spectral.forEach(function (c, k) {
    grad.append('stop').attr('offset', k * 10 + '%').attr('stop-color', c);
  });
  svg.append('rect').attr('x', box.x).attr('y', box.top)
    .attr('width', box.w).attr('height', box.bottom - box.top)
    .attr('fill', 'url(#bar' + i + ')').attr('stroke', ink).attr('stroke-width', 2.5);
  var barAxis = svg.append('g').attr('transform', 'translate(' + (box.x + box.w) + ',0)')
    .call(d3.axisRight(barY).tickValues(barTicks[i]).tickSize(12).tickPadding(4).tickFormat(d3.format('d')));
  barAxis.select('.domain').remove();
  barAxis.selectAll('line').attr('stroke', ink).attr('stroke-width', 2);
  barAxis.selectAll('text').attr('font-size', 21.8).attr('font-family', '"DejaVu Sans", sans-serif').attr('fill', '#262626');

  svg.append('text')
    .attr('transform', 'translate(' + barLabelX[i] + ',516) rotate(-90)')
    .attr('text-anchor', 'middle').attr('dominant-baseline', 'central')
    .attr('font-size', 23.5).text('[days]');
});
</script>
</body>
</html>
